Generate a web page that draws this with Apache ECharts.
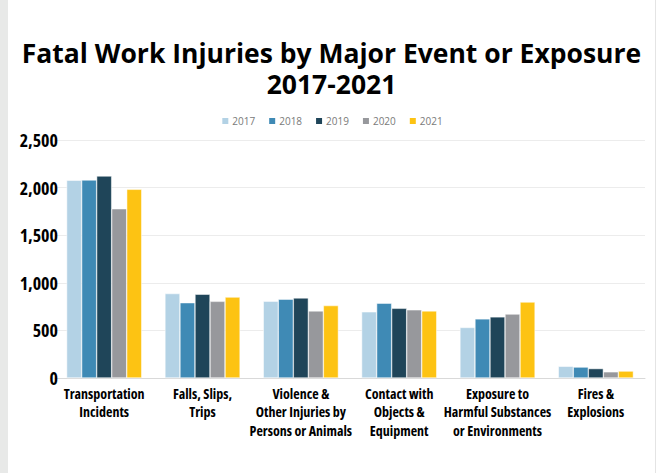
<!DOCTYPE html>
<html><head><meta charset="utf-8">
<script src="https://cdn.jsdelivr.net/npm/echarts@6/dist/echarts.min.js"></script>
<style>
html,body{margin:0;padding:0;background:#fff;}
#strip{position:absolute;left:0;top:0;width:8px;height:473px;background:#e8e9e8;}
#rline{position:absolute;left:655px;top:0;width:1px;height:473px;background:#e4e4e4;}
#c{position:absolute;left:8px;top:0;width:647px;height:473px;background:#fff;}
#c text[style*="14px"], #c text[style*="18px"]{font-stretch:75% !important;}
</style></head>
<body><div id="strip"></div><div id="c"></div><div id="rline"></div>
<script>
const categories = ["Transportation\nIncidents","Falls, Slips,\nTrips","Violence &\nOther Injuries by\nPersons or Animals","Contact with\nObjects &\nEquipment","Exposure to\nHarmful Substances\nor Environments","Fires &\nExplosions"];
const years = ["2017","2018","2019","2020","2021"];
const v2017 = [2077, 887, 807, 695, 531, 123];
const v2018 = [2080, 791, 828, 786, 621, 115];
const v2019 = [2122, 880, 841, 732, 642, 99];
const v2020 = [1778, 805, 705, 716, 672, 65];
const v2021 = [1982, 850, 761, 705, 798, 73];
const colors = ["#b3d2e5","#3f8ab5","#1f4559","#97989c","#fdc313"];
const values = [v2017, v2018, v2019, v2020, v2021];
const chart = echarts.init(document.getElementById('c'), null, {renderer:'svg'});
const font = '"Open Sans", sans-serif';
chart.setOption({
  animation:false,
  title:{text:"Fatal Work Injuries by Major Event or Exposure\n2017-2021", left:'center', top:32,
    textStyle:{fontFamily:'"Open Sans", sans-serif', fontWeight:'bold', fontSize:26.5, color:'#000', lineHeight:31}},
  legend:{top:111, left:'center', itemWidth:8, itemHeight:8, itemGap:12, icon:'rect',
    textStyle:{fontFamily:'"Open Sans", sans-serif', fontSize:10, color:'#7a7a7a', padding:[0,0,0,-2]}},
  grid:{left:47, right:10, top:140, bottom:95},
  xAxis:{type:'category', data:categories,
    axisLine:{lineStyle:{color:'#d9d9d9'}}, axisTick:{show:false},
    axisLabel:{interval:0, fontFamily:font, fontWeight:'bold', fontSize:14, color:'#000', lineHeight:18.5, margin:6}},
  yAxis:{type:'value', min:0, max:2500, interval:500,
    axisLabel:{fontFamily:font, fontWeight:'bold', fontSize:18, color:'#000', margin:-3,
      formatter:v=>v.toLocaleString('en-US')},
    splitLine:{lineStyle:{color:'#ececec'}}},
  series: years.map((y,i)=>({name:y, type:'bar', data:values[i], barGap:'0%', barCategoryGap:'23.6%',
    itemStyle:{color:colors[i], borderColor:'#ffffff', borderWidth:0.5}}))
});
</script></body></html>
